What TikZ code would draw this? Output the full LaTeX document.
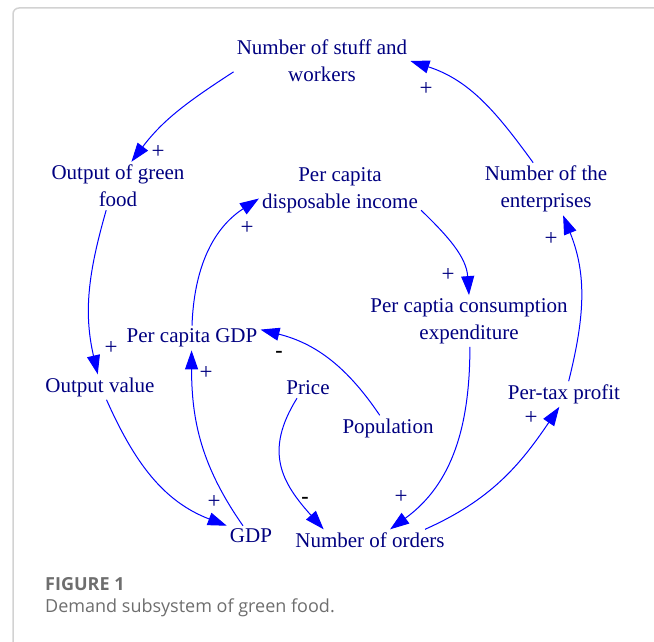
\documentclass[tikz,border=0pt]{standalone}
\usepackage{fontspec}
\setmainfont{Liberation Serif}
\newfontfamily\captionfont{Open Sans}
\usetikzlibrary{arrows.meta}

\definecolor{vnavy}{RGB}{0,0,128}
\definecolor{vblue}{RGB}{0,0,255}
\definecolor{capgray}{RGB}{110,110,110}
\definecolor{framegray}{RGB}{210,210,210}

\begin{document}
\begin{tikzpicture}[x=1pt,y=1pt]
    % --- Style Definitions ---
    \tikzset{
        var text/.style={
            font=\fontsize{21}{27}\selectfont,
            text=vnavy,
            align=center,
            inner sep=3pt
        },
        sign text/.style={font=\fontsize{23}{23}\selectfont, text=vnavy, inner sep=0pt},
        neg text/.style={font=\fontsize{22}{22}\selectfont\bfseries, text=black, inner sep=0pt},
        link arrow/.style={
            -{Triangle[length=19pt,width=13pt]},
            draw=vblue,
            line width=1pt
        },
        frame line/.style={draw=framegray, line width=1.5pt},
        caption head/.style={font=\captionfont\fontsize{18}{22}\selectfont\bfseries, text=capgray, anchor=base west, inner sep=0pt},
        caption body/.style={font=\captionfont\fontsize{18}{22}\selectfont, text=capgray, anchor=base west, inner sep=0pt}
    }

    \useasboundingbox (0,-642) rectangle (654,0);

    % Frame
    \draw[frame line] (13,-642) -- (13,-14) arc[start angle=180, end angle=90, radius=6] -- (654,-8);

    % ==========================================
    % Variables
    % ==========================================
    \node[var text] (stuff) at (322,-61) {Number of stuff and\\workers};
    \node[var text] (green) at (118,-186) {Output of green\\food};
    \node[var text] (income) at (340,-190) {Per capita\\disposable income};
    \node[var text] (enterprises) at (546,-189) {Number of the\\enterprises};
    \node[var text] (consumption) at (469,-321) {Per captia consumption\\expenditure};
    \node[var text] (pcgdp) at (192,-338) {Per capita GDP};
    \node[var text] (outval) at (100,-387) {Output value};
    \node[var text] (price) at (308,-388) {Price};
    \node[var text] (population) at (388,-428) {Population};
    \node[var text] (pretax) at (564,-394) {Per-tax profit};
    \node[var text] (gdp) at (251,-536) {GDP};
    \node[var text] (orders) at (370,-540) {Number of orders};

    % ==========================================
    % Causal links
    % ==========================================
    \draw[link arrow] (stuff.187) to[out=213, in=53] (green.61);
    \draw[link arrow] (enterprises.116) to[out=126, in=-18] (stuff.east);
    \draw[link arrow] (green.244) to[out=254, in=103] (outval.100);
    \draw[link arrow] (pcgdp.north) to[out=88, in=213] (income.186);
    \draw[link arrow] (income.346) to[out=-44, in=94] (consumption.north);
    \draw[link arrow] (gdp.128) to[out=125, in=270] (pcgdp.268);
    \draw[link arrow] (outval.297) to[out=-66, in=159] (gdp.north west);
    \draw[link arrow] (population.123) to[out=124, in=-14] (pcgdp.7);
    \draw[link arrow] (price.223) to[out=238, in=132, looseness=1.2] (orders.167);
    \draw[link arrow] (consumption.272) to[out=270, in=36] (orders.28);
    \draw[link arrow] (orders.11) to[out=24, in=236] (pretax.250);
    \draw[link arrow] (pretax.70) to[out=76, in=292] (enterprises.303);

    % Polarity signs
    \node[sign text] (s1) at (158,-152) {+};
    \node[sign text] (s2) at (426,-89) {+};
    \node[sign text] (s3) at (111,-348) {+};
    \node[sign text] (s4) at (247,-228) {+};
    \node[sign text] (s5) at (448,-275) {+};
    \node[sign text] (s6) at (206,-373) {+};
    \node[sign text] (s7) at (214,-502) {+};
    \node[neg text] (s8) at (279,-354) {-};
    \node[neg text] (s9) at (305,-500) {-};
    \node[sign text] (s10) at (401,-497) {+};
    \node[sign text] (s11) at (531,-418) {+};
    \node[sign text] (s12) at (551,-239) {+};

    % Caption
    \node[caption head] (figlabel) at (45,-590) {FIGURE 1};
    \node[caption body] (figcaption) at (45,-612) {Demand subsystem of green food.};

\end{tikzpicture}
\end{document}
